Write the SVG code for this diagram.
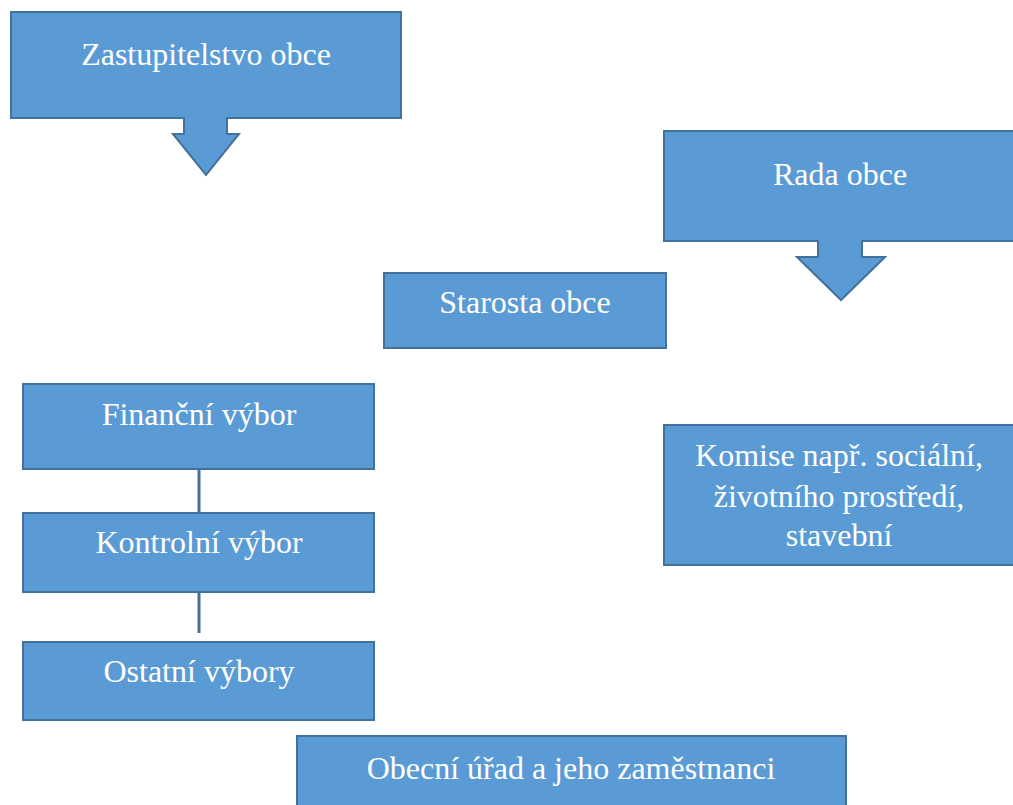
<svg xmlns="http://www.w3.org/2000/svg" width="1013" height="805" viewBox="0 0 1013 805">
<style>
.box{fill:#5B9BD5;stroke:#41719C;stroke-width:2}
.t{fill:#ffffff;font-family:"Liberation Serif","Times New Roman",serif;font-size:32px;text-anchor:middle}
.c{stroke:#41719C;stroke-width:3;fill:none}
</style>
<rect width="1013" height="805" fill="#ffffff"/>
<g id="connectors">
<line class="c" x1="199" y1="469" x2="199" y2="513"/>
<line class="c" x1="199" y1="592" x2="199" y2="633"/>
</g>
<g id="zastupitelstvo">
<path class="box" d="M11,12 H401 V118 H227 V134 H239 L206,175 L173,134 H184 V118 H11 Z"/>
<text class="t" x="206" y="65">Zastupitelstvo obce</text>
</g>
<g id="rada">
<path class="box" d="M664,131 H1016 V241 H862 V257 H885 L841,300 L797,257 H818 V241 H664 Z"/>
<text class="t" x="840" y="185">Rada obce</text>
</g>
<g id="starosta">
<rect class="box" x="384" y="273" width="282" height="75"/>
<text class="t" x="525" y="313">Starosta obce</text>
</g>
<g id="financni">
<rect class="box" x="23" y="384" width="351" height="85"/>
<text class="t" x="199" y="425">Finanční výbor</text>
</g>
<g id="kontrolni">
<rect class="box" x="23" y="513" width="351" height="79"/>
<text class="t" x="199" y="553">Kontrolní výbor</text>
</g>
<g id="ostatni">
<rect class="box" x="23" y="642" width="351" height="78"/>
<text class="t" x="199" y="682">Ostatní výbory</text>
</g>
<g id="komise">
<rect class="box" x="664" y="425" width="352" height="140"/>
<text class="t" x="839" y="466">Komise např. sociální,</text>
<text class="t" x="839" y="507">životního prostředí,</text>
<text class="t" x="839" y="546">stavební</text>
</g>
<g id="obecni">
<rect class="box" x="297" y="736" width="549" height="80"/>
<text class="t" x="571" y="779">Obecní úřad a jeho zaměstnanci</text>
</g>
</svg>
